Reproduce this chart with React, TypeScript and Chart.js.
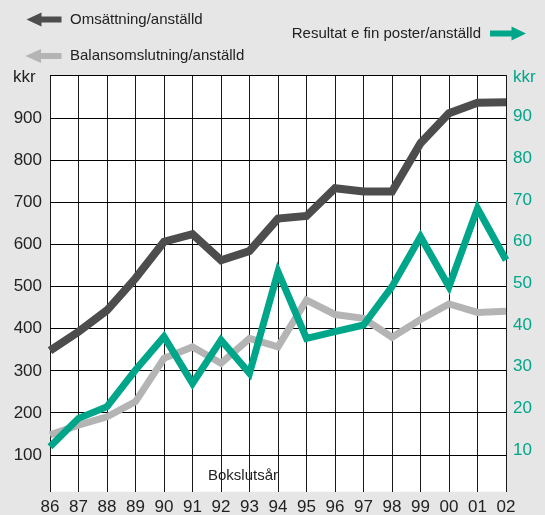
import React, { useEffect, useRef } from "react";
import { Chart, registerables } from "chart.js";

Chart.register(...registerables);

const years = ["86", "87", "88", "89", "90", "91", "92", "93", "94", "95", "96", "97", "98", "99", "00", "01", "02"];
const omsattning = [348, 393, 444, 520, 607, 625, 563, 585, 662, 668, 734, 726, 726, 841, 912, 937, 938];
const balans = [148, 171, 191, 227, 330, 357, 318, 377, 357, 468, 434, 425, 380, 422, 459, 439, 442];
const resultat = [10.8, 17.6, 20.4, 29.2, 37.2, 26.0, 36.4, 28.4, 52.8, 36.8, 38.4, 40.0, 49.2, 61.2, 49.2, 68.0, 55.6];
const leftTicks = [100, 200, 300, 400, 500, 600, 700, 800, 900];
const rightTicks = [10, 20, 30, 40, 50, 60, 70, 80, 90];

const labelOms = "Omsättning/anställd";
const labelBal = "Balansomslutning/anställd";
const labelRes = "Resultat e fin poster/anställd";
const unitLabel = "kkr";
const xTitle = "Bokslutsår";

const DARK = "#4d4d4d";
const LIGHT = "#b4b4b4";
const GREEN = "#00a68a";
const BG = "#e6e6e6";
const FONT = "'Liberation Sans', Arial, Helvetica, sans-serif";

function drawArrow(ctx: CanvasRenderingContext2D, tip: number, base: number, end: number, y: number, shaft: number, head: number, color: string) {
  ctx.save();
  ctx.fillStyle = color;
  ctx.beginPath();
  ctx.moveTo(tip, y);
  ctx.lineTo(base, y - head / 2);
  ctx.lineTo(base, y - shaft / 2);
  ctx.lineTo(end, y - shaft / 2);
  ctx.lineTo(end, y + shaft / 2);
  ctx.lineTo(base, y + shaft / 2);
  ctx.lineTo(base, y + head / 2);
  ctx.closePath();
  ctx.fill();
  ctx.restore();
}

const decorPlugin = {
  id: "decor",
  beforeDraw(chart: any) {
    const { ctx, chartArea, width, height } = chart;
    ctx.save();
    ctx.fillStyle = BG;
    ctx.fillRect(0, 0, width, height);
    ctx.fillStyle = "#ffffff";
    ctx.fillRect(chartArea.left, chartArea.top, chartArea.right - chartArea.left, chartArea.bottom - chartArea.top);
    ctx.fillStyle = "#222";
    ctx.font = `15px ${FONT}`;
    ctx.textAlign = "center";
    ctx.textBaseline = "middle";
    ctx.fillText(xTitle, 243, 476);
    ctx.restore();
  },
  beforeDatasetsDraw(chart: any) {
    const { ctx, chartArea } = chart;
    ctx.save();
    ctx.strokeStyle = "#000";
    ctx.lineWidth = 1;
    ctx.beginPath();
    const y = Math.round(chartArea.top) + 0.5;
    ctx.moveTo(chartArea.left, y);
    ctx.lineTo(chartArea.right, y);
    ctx.stroke();
    ctx.restore();
  },
  afterDraw(chart: any) {
    const { ctx } = chart;
    ctx.save();
    drawArrow(ctx, 26.5, 41.5, 61.5, 19.5, 6, 14, DARK);
    drawArrow(ctx, 25.5, 41, 61.5, 56, 6, 14, LIGHT);
    drawArrow(ctx, 526, 511.5, 490, 33.5, 6, 14, GREEN);
    ctx.font = `15px ${FONT}`;
    ctx.fillStyle = "#222";
    ctx.textBaseline = "middle";
    ctx.textAlign = "left";
    ctx.fillText(labelOms, 70, 19.5);
    ctx.fillText(labelBal, 70, 56);
    ctx.textAlign = "right";
    ctx.fillText(labelRes, 481, 34);
    ctx.font = `17px ${FONT}`;
    ctx.textAlign = "left";
    ctx.fillStyle = "#222";
    ctx.fillText(unitLabel, 13, 77);
    ctx.fillStyle = GREEN;
    ctx.fillText(unitLabel, 513, 77);
    ctx.restore();
  },
};

export default function App() {
  const ref = useRef<HTMLCanvasElement | null>(null);
  useEffect(() => {
    document.body.style.margin = "0";
    const canvas = ref.current;
    if (!canvas) return;
    const chart = new Chart(canvas, {
      type: "line",
      data: {
        labels: years,
        datasets: [
          {
            label: labelRes,
            data: resultat,
            yAxisID: "yR",
            borderColor: GREEN,
            borderWidth: 7,
            pointRadius: 0,
            tension: 0,
            borderJoinStyle: "miter",
            order: 0,
          },
          {
            label: labelOms,
            data: omsattning,
            yAxisID: "y",
            borderColor: DARK,
            borderWidth: 8,
            pointRadius: 0,
            tension: 0,
            borderJoinStyle: "miter",
            order: 1,
          },
          {
            label: labelBal,
            data: balans,
            yAxisID: "y",
            borderColor: LIGHT,
            borderWidth: 7,
            pointRadius: 0,
            tension: 0,
            borderJoinStyle: "miter",
            order: 2,
          },
        ],
      },
      options: {
        responsive: false,
        animation: false,
        events: [],
        layout: { padding: { top: 75, left: 0, right: 0, bottom: 0 } },
        plugins: { legend: { display: false }, tooltip: { enabled: false } },
        scales: {
          x: {
            type: "category",
            offset: false,
            grid: { color: "#1a1a1a", lineWidth: 1, drawTicks: false, offset: false },
            border: { display: false },
            ticks: { color: "#222", font: { size: 17, family: FONT }, padding: 5, maxRotation: 0, autoSkip: false },
            afterFit: (s: any) => { s.height = 23.3; },
          },
          y: {
            position: "left",
            min: 13,
            max: 1003,
            grid: { color: "#000", lineWidth: 1, drawTicks: false },
            border: { display: false },
            afterBuildTicks: (s: any) => { s.ticks = leftTicks.map((v) => ({ value: v })); },
            ticks: { color: "#222", font: { size: 17, family: FONT }, padding: 8 },
            afterFit: (s: any) => { s.width = 50; },
          },
          yR: {
            position: "right",
            min: 0,
            max: 100,
            grid: { display: false, drawTicks: false },
            border: { display: false },
            afterBuildTicks: (s: any) => { s.ticks = rightTicks.map((v) => ({ value: v })); },
            ticks: { color: GREEN, font: { size: 17, family: FONT }, padding: 7 },
            afterFit: (s: any) => { s.width = 39; },
          },
        },
      },
      plugins: [decorPlugin],
    } as any);
    return () => chart.destroy();
  }, []);
  return (
    <div style={{ position: "absolute", left: 0, top: 0, width: 545, height: 515, background: BG }}>
      <canvas ref={ref} width={545} height={515} style={{ display: "block", width: 545, height: 515 }} />
    </div>
  );
}
